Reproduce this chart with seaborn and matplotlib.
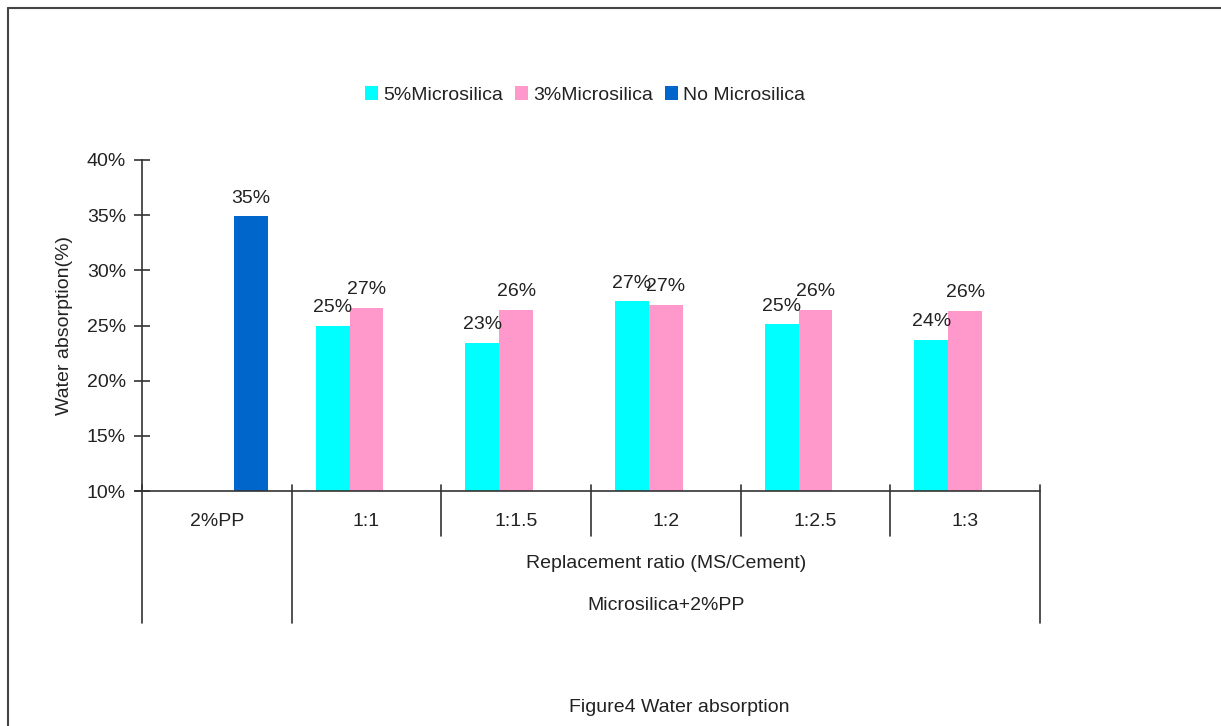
import matplotlib
matplotlib.use("Agg")
import matplotlib.pyplot as plt
import matplotlib.transforms as mtransforms
from matplotlib.lines import Line2D
from matplotlib.patches import Patch
import seaborn as sns
import pandas as pd

# ---- data ----
categories = ["2%PP", "1:1", "1:1.5", "1:2", "1:2.5", "1:3"]
series_names = ["5%Microsilica", "3%Microsilica", "No Microsilica"]
ms5_values = [None, 25.0, 23.4, 27.2, 25.1, 23.7]
ms3_values = [None, 26.6, 26.4, 26.9, 26.4, 26.3]
no_ms_values = [34.9, None, None, None, None, None]
yticks = [10, 15, 20, 25, 30, 35, 40]
group_label = "Replacement ratio (MS/Cement)"
outer_label = "Microsilica+2%PP"
ylabel = "Water absorption(%)"
caption = "Figure4 Water absorption"
colors = ["#00FFFF", "#FF99CC", "#0066CC"]

rows = []
for name, vals in zip(series_names, [ms5_values, ms3_values, no_ms_values]):
    for cat, v in zip(categories, vals):
        if v is not None:
            rows.append({"cat": cat, "series": name, "value": v})
df = pd.DataFrame(rows)

sns.set_theme(style="white")
plt.rcParams["font.family"] = ["Liberation Sans", "DejaVu Sans"]
text_color = "#222222"
line_color = "#333333"
fs = 14

fig = plt.figure(figsize=(12.21, 7.26), dpi=100)
ax = fig.add_axes([142 / 1221, 1 - 491 / 726, (1040 - 142) / 1221, (491 - 160) / 726])

sns.barplot(data=df, x="cat", y="value", hue="series", order=categories,
            hue_order=series_names, palette=colors, width=0.68, gap=0,
            saturation=1, ax=ax, errorbar=None, dodge=True, linewidth=0)

for cont in ax.containers:
    ax.bar_label(cont, fmt="{:.0f}%", padding=7, fontsize=fs, color=text_color)

ax.set_ylim(10, 40)
ax.set_xlim(-0.5, len(categories) - 0.5)
ax.set_yticks(yticks)
ax.set_yticklabels([f"{t}%" for t in yticks])
ax.set_xlabel("")
ax.set_ylabel(ylabel, fontsize=fs, color=text_color, labelpad=10)
for s in ["top", "right", "bottom"]:
    ax.spines[s].set_visible(False)
ax.spines["left"].set_color(line_color)
ax.spines["left"].set_linewidth(1.2)
ax.tick_params(axis="y", direction="inout", length=11, width=1.2, colors=line_color,
               labelsize=fs, labelcolor=text_color, left=True, pad=6)
ax.tick_params(axis="x", length=0, pad=16, labelsize=fs, labelcolor=text_color)
ax.legend_.remove()

# multi-level category axis decorations
trans = mtransforms.blended_transform_factory(ax.transData, ax.transAxes)
ax_h = 491 - 160
y_top = 6 / ax_h
y_mid = -(536 - 491) / ax_h
y_bot = -(623 - 491) / ax_h
ax.add_line(Line2D([-0.5 - 7 / 150, len(categories) - 0.5], [0, 0], transform=trans,
                   color=line_color, lw=1.2, clip_on=False))
for i in range(len(categories) + 1):
    xb = i - 0.5
    yb = y_bot if i in (0, 1, len(categories)) else y_mid
    ax.add_line(Line2D([xb, xb], [y_top, yb], transform=trans, color=line_color,
                       lw=1.2, clip_on=False))
mid_x = (1 + len(categories) - 1) / 2
ax.text(mid_x, -(564 - 491) / ax_h, group_label, transform=trans, ha="center",
        va="center", fontsize=fs, color=text_color)
ax.text(mid_x, -(606 - 491) / ax_h, outer_label, transform=trans, ha="center",
        va="center", fontsize=fs, color=text_color)

# legend
handles = [Patch(facecolor=c, edgecolor="none") for c in colors]
fig.legend(handles, series_names, loc="center", bbox_to_anchor=(585 / 1221, 1 - 95 / 726),
           ncol=3, frameon=False, fontsize=fs, handlelength=0.7, handleheight=0.7,
           handletextpad=0.25, columnspacing=0.6, labelcolor=text_color)

# caption
fig.text(679 / 1221, 1 - 708 / 726, caption, ha="center", va="center", fontsize=fs,
         color=text_color)

# outer frame
fig.add_artist(Line2D([8 / 1221, 8 / 1221], [0, 1 - 8 / 726], transform=fig.transFigure,
                      color="#444444", lw=1.5))
fig.add_artist(Line2D([8 / 1221, 1], [1 - 8 / 726, 1 - 8 / 726], transform=fig.transFigure,
                      color="#444444", lw=1.5))

fig.savefig("out.png", dpi=100, facecolor="white")
